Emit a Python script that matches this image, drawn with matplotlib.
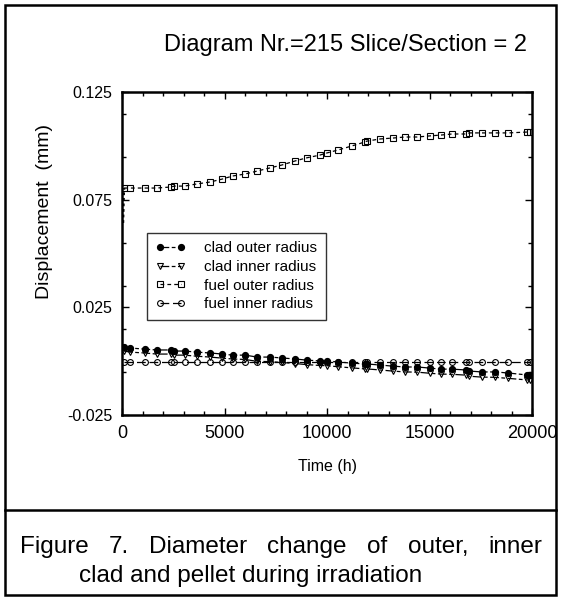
import matplotlib
matplotlib.use("Agg")
import matplotlib.pyplot as plt
from matplotlib.lines import Line2D
from matplotlib.patches import Rectangle

plt.rcParams['font.family'] = ['Liberation Sans', 'DejaVu Sans']

# ---------------- data ----------------
time_h = [100, 400, 1100, 1700, 2400, 2550, 3050, 3650, 4300, 4900, 5400, 6000,
          6600, 7200, 7800, 8450, 9000, 9650, 10000, 10550, 11200, 11850, 11950,
          12600, 13200, 13800, 14400, 15000, 15550, 16100, 16800, 16950, 17550,
          18200, 18850, 19750, 19900]

clad_outer = [0.0066, 0.0061, 0.0056, 0.0052, 0.0052, 0.0047, 0.0047, 0.0042,
              0.0038, 0.0033, 0.0028, 0.0028, 0.0019, 0.0019, 0.0015, 0.0010,
              0.0005, 0.0001, 0.0001, -0.0004, -0.0009, -0.0013, -0.0013,
              -0.0018, -0.0023, -0.0027, -0.0027, -0.0032, -0.0037, -0.0037,
              -0.0041, -0.0046, -0.0050, -0.0050, -0.0055, -0.0064, -0.0064]

clad_inner = [0.0047, 0.0042, 0.0038, 0.0033, 0.0033, 0.0028, 0.0028, 0.0023,
              0.0019, 0.0014, 0.0010, 0.0008, -0.0001, -0.0002, -0.0006, -0.0011,
              -0.0016, -0.0020, -0.0021, -0.0026, -0.0031, -0.0036, -0.0036,
              -0.0041, -0.0046, -0.0050, -0.0051, -0.0056, -0.0060, -0.0061,
              -0.0065, -0.0070, -0.0074, -0.0075, -0.0080, -0.0087, -0.0088]

fuel_outer = [0.0804, 0.0804, 0.0804, 0.0804, 0.0809, 0.0813, 0.0813, 0.0823,
              0.0832, 0.0846, 0.0860, 0.0869, 0.0883, 0.0897, 0.0911, 0.0930,
              0.0944, 0.0957, 0.0967, 0.0981, 0.0999, 0.1018, 0.1022, 0.1032,
              0.1036, 0.1041, 0.1041, 0.1046, 0.1050, 0.1055, 0.1055, 0.1060,
              0.1060, 0.1060, 0.1060, 0.1064, 0.1064]

fuel_inner = [-0.0002, -0.0002, -0.0002, -0.0002, -0.0002, -0.0002, -0.0002,
              -0.0002, -0.0002, -0.0002, -0.0002, -0.0002, -0.0002, -0.0002,
              -0.0002, -0.0002, -0.0002, -0.0002, -0.0002, -0.0002, -0.0002,
              -0.0002, -0.0002, -0.0002, -0.0002, -0.0002, -0.0002, -0.0002,
              -0.0002, -0.0002, -0.0002, -0.0002, -0.0002, -0.0002, -0.0002,
              -0.0002, -0.0002]

# start-up ramp of the fuel outer radius (near t = 0)
ramp_time_h = [40, 45, 50, 55, 60, 65, 70, 80, 100]
ramp_fuel_outer = [0.0642, 0.0660, 0.0681, 0.0700, 0.0722, 0.0741, 0.0762, 0.0789, 0.0804]

series_labels = ["clad outer radius", "clad inner radius",
                 "fuel outer radius", "fuel inner radius"]

x_ticks = [0, 5000, 10000, 15000, 20000]
y_ticks = [-0.025, 0.025, 0.075, 0.125]
y_tick_labels = ["-0.025", "0.025", "0.075", "0.125"]

title_text = "Diagram Nr.=215 Slice/Section = 2"
x_label = "Time (h)"
y_label = "Displacement  (mm)"
caption_line1 = "Figure 7. Diameter change of outer, inner"
caption_line2 = "clad and pellet during irradiation"

# ---------------- figure ----------------
W, H = 561, 600
fig = plt.figure(figsize=(W / 100, H / 100), dpi=100)

def fx(px):
    return px / W

def fy(py):
    return 1 - py / H

# outer frame and caption separator
fig.add_artist(Rectangle((fx(5), fy(595)), fx(551), 590 / H, transform=fig.transFigure,
                         fill=False, lw=1.8, ec='black'))
fig.add_artist(Line2D([fx(5), fx(556)], [fy(510), fy(510)], transform=fig.transFigure,
                      lw=1.8, color='black'))

ax = fig.add_axes([fx(122), fy(415), fx(532) - fx(122), (415 - 92) / H])

ms_c = 4.2
lw = 0.9
ax.plot(ramp_time_h, ramp_fuel_outer, color='black', lw=2.0, ls=(0, (1, 1)))
ax.plot(time_h, clad_outer, color='black', lw=lw, dashes=(7, 2, 3, 2), marker='o',
        ms=ms_c, mfc='black', mec='black', label=series_labels[0])
ax.plot(time_h, clad_inner, color='black', lw=lw, dashes=(7, 2, 3, 2), marker='v',
        ms=ms_c + 0.6, mfc='none', mec='black', mew=0.8, label=series_labels[1])
ax.plot(time_h, fuel_outer, color='black', lw=lw, dashes=(3, 2.5), marker='s',
        ms=ms_c + 0.8, mfc='none', mec='black', mew=0.8, label=series_labels[2])
ax.plot(time_h, fuel_inner, color='black', lw=lw, dashes=(7, 3), marker='o',
        ms=ms_c, mfc='none', mec='black', mew=0.8, label=series_labels[3])

ax.set_xlim(0, 20000)
ax.set_ylim(-0.025, 0.125)
ax.set_xticks(x_ticks)
ax.set_xticklabels([str(v) for v in x_ticks])
ax.set_xticks(range(0, 20001, 1000), minor=True)
ax.set_yticks(y_ticks)
ax.set_yticklabels(y_tick_labels)
ax.set_yticks([-0.005, 0.015, 0.035, 0.055, 0.095, 0.115], minor=True)
ax.tick_params(which='both', direction='in', top=True, right=True,
               width=1, color='black')
ax.tick_params(which='major', length=5)
ax.tick_params(which='minor', length=3)
ax.tick_params(axis='x', pad=7, labelsize=13)
ax.tick_params(axis='y', pad=7, labelsize=11.5)
for s in ax.spines.values():
    s.set_linewidth(1.8)

leg = ax.legend(loc='upper left', bbox_to_anchor=((147 - 122) / 410, (415 - 233) / 323),
                frameon=True, fancybox=False, edgecolor='black', fontsize=11,
                handlelength=2.0, handletextpad=1.2, borderpad=0.55, labelspacing=0.3,
                numpoints=2, borderaxespad=0)
leg.get_frame().set_linewidth(1.0)

fig.text(fx(346), fy(45), title_text, ha='center', va='center', fontsize=17)
fig.text(fx(327), fy(466), x_label, ha='center', va='center', fontsize=11.5)
fig.text(fx(45), fy(212), y_label, ha='center', va='center', rotation=90, fontsize=14)

# caption: first line justified between x=20 and x=542
fig.canvas.draw()
renderer = fig.canvas.get_renderer()
words = caption_line1.split(" ")
texts = [fig.text(0, fy(547), w, ha='left', va='center', fontsize=17.5) for w in words]
widths = [t.get_window_extent(renderer).width for t in texts]
left, right = 20, 542
gap = (right - left - sum(widths)) / (len(words) - 1)
x = left
for t, w in zip(texts, widths):
    t.set_x(fx(x))
    x += w + gap
fig.text(fx(79), fy(576), caption_line2, ha='left', va='center', fontsize=17.5)

fig.savefig("out.png", dpi=100)
